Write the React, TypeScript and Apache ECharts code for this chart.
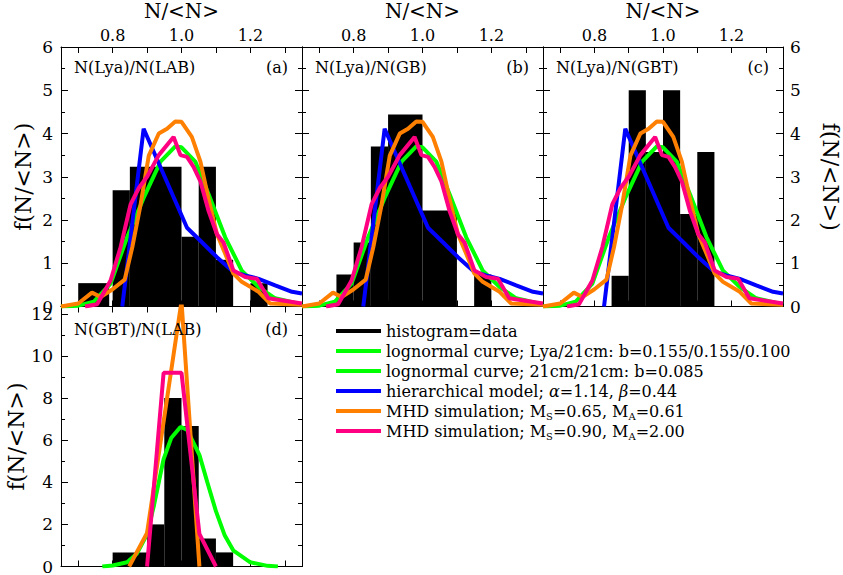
import React, { useEffect, useRef } from "react";
import * as echarts from "echarts";

// ---------------- data ----------------
const xTickLabels = ["0.8", "1.0", "1.2"];

// histograms (bin start, bin end, f(N/<N>))
const histAStart = [0.7, 0.8, 0.85, 1.0, 1.05, 1.1, 1.2];
const histAEnd = [0.79, 0.85, 1.0, 1.05, 1.1, 1.15, 1.25];
const histAHeight = [0.54, 2.69, 3.23, 1.61, 3.23, 1.08, 0.54];

const histBStart = [0.75, 0.8, 0.85, 0.9, 1.0, 1.15];
const histBEnd = [0.8, 0.85, 0.9, 1.0, 1.1, 1.2];
const histBHeight = [0.74, 1.48, 3.7, 4.44, 2.22, 0.74];

const histCStart = [0.85, 0.9, 0.95, 1.0, 1.05, 1.1];
const histCEnd = [0.9, 0.95, 1.0, 1.05, 1.1, 1.15];
const histCHeight = [0.71, 5.0, 3.57, 5.0, 2.14, 3.57];

const histDStart = [0.8, 0.9, 0.95, 1.0, 1.05, 1.1];
const histDEnd = [0.9, 0.95, 1.0, 1.05, 1.1, 1.15];
const histDHeight = [0.67, 2.0, 8.0, 6.67, 1.33, 0.67];

// curves for panels a-c
const lognormX = [0.65, 0.7, 0.745, 0.794, 0.842, 0.89, 0.939, 0.982, 1.0, 1.04, 1.079, 1.127, 1.175, 1.224, 1.272, 1.35];
const lognormY = [0, 0.02, 0.11, 0.53, 1.6, 2.51, 3.35, 3.7, 3.68, 3.35, 2.59, 1.6, 0.83, 0.45, 0.19, 0.05];

const hierX = [0.828, 0.89, 1.016, 1.06, 1.103, 1.151, 1.185, 1.224, 1.272, 1.321, 1.35];
const hierY = [0, 4.11, 1.82, 1.48, 1.14, 0.8, 0.72, 0.64, 0.49, 0.34, 0.3];

const mhd1X = [0.65, 0.7, 0.74, 0.765, 0.8, 0.835, 0.857, 0.881, 0.905, 0.934, 0.958, 0.982, 1.0, 1.03, 1.055, 1.079, 1.103, 1.127, 1.151, 1.175, 1.224, 1.257, 1.35];
const mhd1Y = [0, 0.07, 0.32, 0.22, 0.4, 0.62, 1.37, 2.35, 3.49, 4.0, 4.11, 4.28, 4.27, 3.92, 3.35, 2.47, 1.67, 1.22, 0.76, 0.57, 0.34, 0.07, 0.04];

const mhd2X = [0.72, 0.755, 0.794, 0.823, 0.852, 0.876, 0.9, 0.934, 0.977, 0.997, 1.016, 1.035, 1.055, 1.079, 1.103, 1.122, 1.151, 1.185, 1.219, 1.252, 1.35];
const mhd2Y = [0, 0.05, 0.6, 1.37, 2.36, 2.74, 3.0, 3.5, 3.92, 3.5, 3.46, 3.23, 2.89, 2.2, 1.67, 1.48, 0.83, 0.68, 0.64, 0.19, 0.07];

// curves for panel d
const lognormDX = [0.77, 0.8, 0.842, 0.87, 0.9, 0.92, 0.948, 0.97, 0.997, 1.016, 1.052, 1.075, 1.1, 1.125, 1.151, 1.2, 1.25, 1.28];
const lognormDY = [0, 0.05, 0.2, 0.6, 1.53, 2.9, 5.1, 6.1, 6.63, 6.5, 5.3, 4.0, 2.63, 1.5, 0.75, 0.2, 0.03, 0];

const mhd1DX = [0.848, 0.9, 1.0, 1.052];
const mhd1DY = [0, 1.6, 12.6, 0];

const mhd2DX = [0.9, 0.948, 1.0, 1.052, 1.1];
const mhd2DY = [0, 9.2, 9.2, 1.55, 0];

// ---------------- names / styles ----------------
const NAME_HIST = "histogram=data";
const NAME_LOG1 = "lognormal curve; Lya/21cm: b=0.155/0.155/0.100";
const NAME_LOG2 = "lognormal curve; 21cm/21cm: b=0.085";
const NAME_HIER = "hierarchical model; α=1.14, β=0.44";
const NAME_MHD1 = "MHD simulation; MS=0.65, MA=0.61";
const NAME_MHD2 = "MHD simulation; MS=0.90, MA=2.00";

const legendRich: Record<string, string> = {
  [NAME_HIST]: "histogram=data",
  [NAME_LOG1]: "lognormal curve; Lya/21cm: b=0.155/0.155/0.100",
  [NAME_LOG2]: "lognormal curve; 21cm/21cm: b=0.085",
  [NAME_HIER]: "hierarchical model; {i|α}=1.14, {i|β}=0.44",
  [NAME_MHD1]: "MHD simulation; M{s|S}=0.65, M{s|A}=0.61",
  [NAME_MHD2]: "MHD simulation; M{s|S}=0.90, M{s|A}=2.00",
};

const FONT = "'DejaVu Serif', serif";
const GREEN = "#00ff00";
const BLUE = "#0000ff";
const ORANGE = "#ff8000";
const PINK = "#ff0080";

const pairs = (xs: number[], ys: number[]) => xs.map((x, i) => [x, ys[i]]);
const bins = (s: number[], e: number[], h: number[]) => s.map((v, i) => [v, e[i], h[i]]);

function App() {
  const ref = useRef<HTMLDivElement>(null);

  useEffect(() => {
    document.body.style.margin = "0";
    if (!ref.current) return;
    const chart = echarts.init(ref.current, null, { renderer: "svg" });

    const grids = [
      { left: 61, top: 44, width: 241, height: 262.5 },
      { left: 302, top: 44, width: 241, height: 262.5 },
      { left: 543, top: 44, width: 240, height: 262.5 },
      { left: 61, top: 306.5, width: 241, height: 262.8 },
    ];

    const axisLine = { show: true, onZero: false, lineStyle: { color: "#000", width: 1 } };

    const xAxes: any[] = [];
    const yAxes: any[] = [];
    grids.forEach((_, g) => {
      const showTop = g < 3;
      xAxes.push({
        type: "value",
        gridIndex: g,
        position: "top",
        min: 0.65,
        max: 1.35,
        splitNumber: 7,
        axisLine,
        axisTick: { show: true, inside: true, length: 6, lineStyle: { color: "#000" } },
        splitLine: { show: false },
        axisLabel: {
          show: showTop,
          margin: 4,
          color: "#000",
          fontFamily: FONT,
          fontSize: 16,
          showMinLabel: false,
          showMaxLabel: false,
          formatter: (v: number) => {
            const s = v.toFixed(1);
            return xTickLabels.includes(s) && Math.abs(v - parseFloat(s)) < 1e-6 ? s : "";
          },
        },
        name: showTop ? "N/<N>" : "",
        nameLocation: "middle",
        nameGap: 26,
        nameTextStyle: { color: "#000", fontFamily: FONT, fontSize: 20 },
      });
      xAxes.push({
        type: "value",
        gridIndex: g,
        position: "bottom",
        min: 0.65,
        max: 1.35,
        splitNumber: 7,
        axisLine,
        axisTick: { show: true, inside: true, length: 6, lineStyle: { color: "#000" } },
        splitLine: { show: false },
        axisLabel: { show: false },
      });
      const isD = g === 3;
      const yBase = {
        type: "value",
        gridIndex: g,
        min: 0,
        max: isD ? 12.35 : 6,
        interval: isD ? 2 : 1,
        axisLine,
        axisTick: { show: true, inside: true, length: 7, lineStyle: { color: "#000" } },
        minorTick: { show: true, splitNumber: 2, length: 4, lineStyle: { color: "#000" } },
        splitLine: { show: false },
        minorSplitLine: { show: false },
      };
      const showLeft = g === 0 || g === 3;
      yAxes.push({
        ...yBase,
        position: "left",
        axisLabel: {
          show: showLeft,
          margin: 8,
          color: "#000",
          fontFamily: FONT,
          fontSize: 17,
          showMaxLabel: !isD ? true : false,
        },
        name: showLeft ? "f(N/<N>)" : "",
        nameLocation: "middle",
        nameRotate: 90,
        nameGap: 27,
        nameTextStyle: { color: "#000", fontFamily: FONT, fontSize: 22 },
      });
      const showRight = g === 2;
      yAxes.push({
        ...yBase,
        position: "right",
        axisLabel: {
          show: showRight,
          margin: 7,
          color: "#000",
          fontFamily: FONT,
          fontSize: 17,
        },
        name: showRight ? "f(N/<N>)" : "",
        nameLocation: "middle",
        nameRotate: -90,
        nameGap: 36,
        nameTextStyle: { color: "#000", fontFamily: FONT, fontSize: 22 },
      });
    });

    const histData = [
      bins(histAStart, histAEnd, histAHeight),
      bins(histBStart, histBEnd, histBHeight),
      bins(histCStart, histCEnd, histCHeight),
      bins(histDStart, histDEnd, histDHeight),
    ];

    const series: any[] = [];
    const lineSeries = (name: string, color: string, data: number[][], g: number) => ({
      type: "line",
      name,
      xAxisIndex: 2 * g,
      yAxisIndex: 2 * g,
      data,
      showSymbol: false,
      symbol: "none",
      lineStyle: { color, width: 4 },
      itemStyle: { color },
      z: 3,
      clip: true,
    });

    histData.forEach((d, g) => {
      series.push({
        type: "custom",
        name: NAME_HIST,
        xAxisIndex: 2 * g,
        yAxisIndex: 2 * g,
        data: d,
        encode: { x: [0, 1], y: 2 },
        itemStyle: { color: "#000" },
        z: 1,
        renderItem: (_p: any, api: any) => {
          const p0 = api.coord([api.value(0), api.value(2)]);
          const p1 = api.coord([api.value(1), 0]);
          return {
            type: "rect",
            shape: { x: p0[0], y: p0[1], width: p1[0] - p0[0], height: p1[1] - p0[1] },
            style: { fill: "#000" },
          };
        },
      });
    });

    for (let g = 0; g < 3; g++) {
      series.push(lineSeries(NAME_LOG1, GREEN, pairs(lognormX, lognormY), g));
      series.push(lineSeries(NAME_HIER, BLUE, pairs(hierX, hierY), g));
      series.push(lineSeries(NAME_MHD1, ORANGE, pairs(mhd1X, mhd1Y), g));
      series.push(lineSeries(NAME_MHD2, PINK, pairs(mhd2X, mhd2Y), g));
    }
    series.push(lineSeries(NAME_LOG2, GREEN, pairs(lognormDX, lognormDY), 3));
    series.push(lineSeries(NAME_MHD1, ORANGE, pairs(mhd1DX, mhd1DY), 3));
    series.push(lineSeries(NAME_MHD2, PINK, pairs(mhd2DX, mhd2DY), 3));

    const panelText = (x: number, y: number, text: string, align: string) => ({
      type: "text",
      x,
      y,
      z: 10,
      style: {
        text,
        fill: "#000",
        font: `16px ${FONT}`,
        align,
        verticalAlign: "middle",
      },
    });

    const option: any = {
      animation: false,
      backgroundColor: "#fff",
      grid: grids.map((g) => ({ ...g, containLabel: false })),
      xAxis: xAxes,
      yAxis: yAxes,
      legend: {
        data: [NAME_HIST, NAME_LOG1, NAME_LOG2, NAME_HIER, NAME_MHD1, NAME_MHD2],
        orient: "vertical",
        left: 336,
        top: 321,
        padding: 0,
        itemGap: 0,
        itemWidth: 45,
        itemHeight: 4,
        icon: "rect",
        selectedMode: false,
        formatter: (name: string) => legendRich[name] ?? name,
        textStyle: {
          color: "#000",
          fontFamily: FONT,
          fontSize: 16,
          lineHeight: 20,
          rich: {
            i: { fontFamily: FONT, fontSize: 16, fontStyle: "italic", lineHeight: 20 },
            s: { fontFamily: FONT, fontSize: 10, lineHeight: 8, verticalAlign: "bottom" },
          },
        },
      },
      graphic: [
        panelText(74, 67, "N(Lya)/N(LAB)", "left"),
        panelText(288, 67, "(a)", "right"),
        panelText(315, 67, "N(Lya)/N(GB)", "left"),
        panelText(529, 67, "(b)", "right"),
        panelText(556, 67, "N(Lya)/N(GBT)", "left"),
        panelText(769, 67, "(c)", "right"),
        panelText(74, 329, "N(GBT)/N(LAB)", "left"),
        panelText(288, 329, "(d)", "right"),
      ],
      series,
    };

    chart.setOption(option);
    return () => chart.dispose();
  }, []);

  return <div ref={ref} style={{ width: 843, height: 575 }} />;
}

export default App;
